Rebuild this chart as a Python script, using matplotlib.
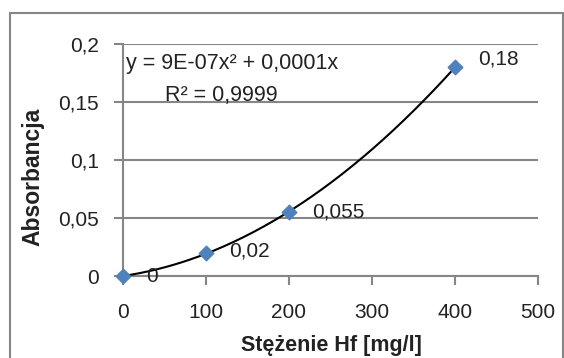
import numpy as np
import matplotlib.pyplot as plt
from matplotlib.patches import Rectangle

# data
stezenie = [0, 100, 200, 400]
absorbancja = [0, 0.02, 0.055, 0.18]
etykiety = ["0", "0,02", "0,055", "0,18"]
x_ticks = [0, 100, 200, 300, 400, 500]
y_ticks = [0, 0.05, 0.1, 0.15, 0.2]
y_labels = ["0", "0,05", "0,1", "0,15", "0,2"]

plt.rcParams['font.family'] = ['Liberation Sans', 'DejaVu Sans']
GRAY = '#868686'
TXT = '#222222'

fig = plt.figure(figsize=(5.64, 3.58), dpi=100)
# chart border (bottom edge lies outside the picture)
fig.patches.append(Rectangle((9.5/564, -10/358), 553/564, 355/358, transform=fig.transFigure,
                             fill=False, edgecolor=GRAY, linewidth=1.5))
ax = fig.add_axes([123/564, 1 - 276/358, 415/564, 232/358])

# trendline y = a x^2 + b x (through origin)
xs = np.array(stezenie, float)
ys = np.array(absorbancja, float)
A = np.vstack([xs**2, xs]).T
(a, b), *_ = np.linalg.lstsq(A, ys, rcond=None)
xx = np.linspace(0, 400, 200)
ax.plot(xx, a * xx**2 + b * xx, color='black', linewidth=1.5, zorder=3)

ax.scatter(stezenie, absorbancja, marker='D', s=55, color='#4F81BD', zorder=4, clip_on=False)
offsets = [(17, 0), (17, 1), (17, 0), (17, 6)]
for xv, yv, t, off in zip(stezenie, absorbancja, etykiety, offsets):
    ax.annotate(t, (xv, yv), xytext=off, textcoords='offset points',
                fontsize=15, va='center', ha='left', color=TXT, zorder=5)

ax.set_xlim(0, 500)
ax.set_ylim(0, 0.2)
ax.set_xticks(x_ticks)
ax.set_yticks(y_ticks)
ax.set_yticklabels(y_labels)
ax.tick_params(axis='both', labelsize=15, colors=GRAY, labelcolor=TXT, width=1.5)
ax.tick_params(axis='x', length=6.5, pad=13)
ax.tick_params(axis='y', length=6.5, pad=11)
ax.grid(axis='y', color=GRAY, linewidth=1.5)
ax.set_axisbelow(True)
for s in ['top', 'right']:
    ax.spines[s].set_visible(False)
for s in ['left', 'bottom']:
    ax.spines[s].set_color(GRAY)
    ax.spines[s].set_linewidth(1.5)

ax.set_xlabel('Stężenie Hf [mg/l]', fontsize=15.5, fontweight='bold', color=TXT)
ax.xaxis.set_label_coords((331 - 123) / 415, (276 - 345) / 232)
ax.xaxis.label.set_va('center')
ax.set_ylabel('Absorbancja', fontsize=16.5, fontweight='bold', color=TXT)
ax.yaxis.set_label_coords((33 - 123) / 415, (276 - 177) / 232)
ax.yaxis.label.set_va('center')

ax.text(3/415, (276 - 63) / 232, 'y = 9E-07x² + 0,0001x', transform=ax.transAxes, fontsize=15.5,
        va='center', ha='left', color=TXT)
ax.text(42/415, (276 - 95) / 232, 'R² = 0,9999', transform=ax.transAxes, fontsize=15.5,
        va='center', ha='left', color=TXT)

fig.savefig('out.png', dpi=100)
